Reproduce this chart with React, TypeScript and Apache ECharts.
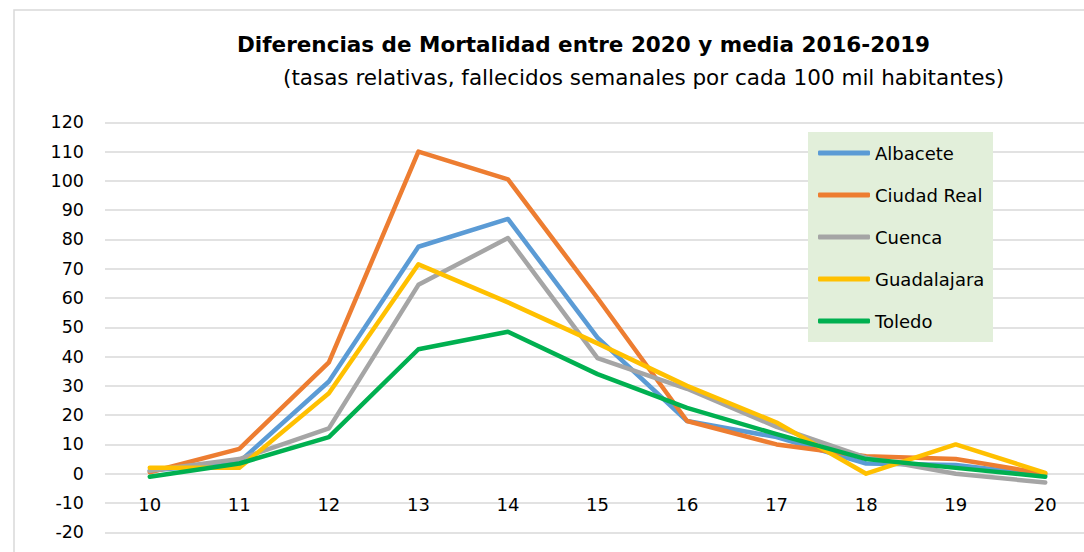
import React, { useEffect, useRef } from "react";
import * as echarts from "echarts";

const weeks = ["10", "11", "12", "13", "14", "15", "16", "17", "18", "19", "20"];
const albacete = [1, 4, 31.5, 77.5, 87, 46.5, 18, 12.5, 3.5, 3, -0.5];
const ciudadReal = [0.5, 8.5, 38, 110, 100.5, 60, 18, 10, 6, 5, 0];
const cuenca = [1, 5, 15.5, 64.5, 80.5, 39.5, 29, 16, 5.5, 0, -3];
const guadalajara = [2, 2, 27.5, 71.5, 58.5, 44.5, 30, 17.5, 0, 10, 0.3];
const toledo = [-1, 3.5, 12.5, 42.5, 48.5, 34, 22.5, 13.5, 5, 2, -1];

const seriesNames = ["Albacete", "Ciudad Real", "Cuenca", "Guadalajara", "Toledo"];
const seriesData = [albacete, ciudadReal, cuenca, guadalajara, toledo];
const seriesColors = ["#5B9BD5", "#ED7D31", "#A5A5A5", "#FFC000", "#00B050"];

const FONT = "'DejaVu Sans', sans-serif";

export default function App() {
  const ref = useRef<HTMLDivElement>(null);
  useEffect(() => {
    document.body.style.margin = "0";
    if (!ref.current) return;
    const chart = echarts.init(ref.current, null, { renderer: "svg" });
    chart.setOption({
      animation: false,
      backgroundColor: "#ffffff",
      textStyle: { fontFamily: FONT },
      title: [
        {
          text: "Diferencias de Mortalidad entre 2020 y media 2016-2019",
          left: 237,
          top: 33,
          padding: 0,
          textStyle: { fontFamily: FONT, fontSize: 21.5, fontWeight: "bold", color: "#000" },
        },
        {
          text: "(tasas relativas, fallecidos semanales por cada 100 mil habitantes)",
          left: 283,
          top: 66,
          padding: 0,
          textStyle: { fontFamily: FONT, fontSize: 21.5, fontWeight: "normal", color: "#000" },
        },
      ],
      graphic: [
        {
          type: "rect",
          z: -10,
          silent: true,
          shape: { x: 14, y: 10, width: 1200, height: 700 },
          style: { fill: "none", stroke: "#D9D9D9", lineWidth: 1.5 },
        },
        {
          type: "rect",
          z: 1,
          silent: true,
          shape: { x: 808, y: 132, width: 185, height: 210 },
          style: { fill: "#E2EFDA" },
        },
      ],
      legend: {
        orient: "vertical",
        left: 808,
        top: 132,
        padding: [11, 10, 11, 10],
        itemWidth: 52,
        itemHeight: 5,
        itemGap: 22,
        z: 5,
        icon: "roundRect",
        data: seriesNames,
        textStyle: { fontFamily: FONT, fontSize: 18, color: "#000", lineHeight: 20 },
      },
      grid: { left: 105, top: 122.3, width: 985, height: 410, outerBoundsMode: "none" },
      xAxis: {
        type: "category",
        data: weeks,
        boundaryGap: true,
        position: "bottom",
        axisLine: { show: false, onZero: false },
        axisTick: { show: false },
        axisLabel: { fontFamily: FONT, fontSize: 18, color: "#000", inside: true, margin: 19 },
        splitLine: { show: false },
      },
      yAxis: {
        type: "value",
        min: -20,
        max: 120,
        interval: 10,
        axisLine: { show: false },
        axisTick: { show: false },
        axisLabel: { fontFamily: FONT, fontSize: 17.5, color: "#000", margin: 21 },
        splitLine: { show: true, lineStyle: { color: "#D9D9D9", width: 1.5 } },
      },
      series: seriesNames.map((name, i) => ({
        name,
        type: "line",
        data: seriesData[i],
        showSymbol: false,
        symbol: "none",
        z: 2,
        color: seriesColors[i],
        lineStyle: { width: 4.5, color: seriesColors[i], cap: "round", join: "round" },
      })),
    });
    return () => chart.dispose();
  }, []);
  return <div ref={ref} style={{ width: 1084, height: 552 }} />;
}
